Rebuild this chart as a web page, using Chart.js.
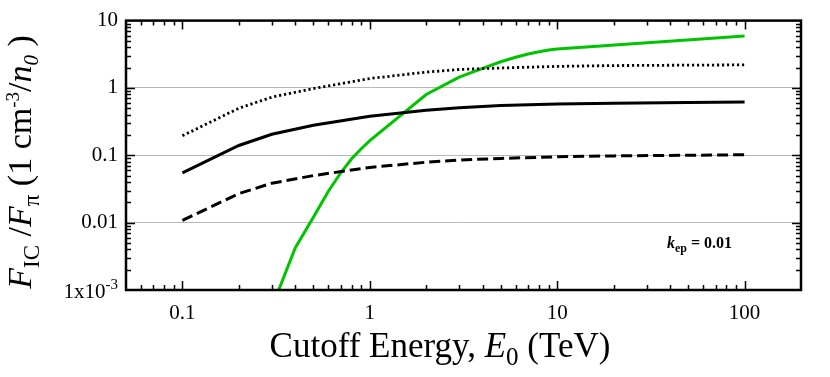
<!DOCTYPE html>
<html>
<head>
<meta charset="utf-8">
<script src="https://cdn.jsdelivr.net/npm/chart.js@4.4.1/dist/chart.umd.min.js"></script>
<style>
  html, body { margin: 0; padding: 0; background: #fff; }
  #wrap { width: 830px; height: 377px; }
</style>
</head>
<body>
<div id="wrap"><canvas id="myChart" width="830" height="377"></canvas></div>
<script>
// Energías de corte (TeV) para las curvas negras
const energy = [0.1, 0.2, 0.3, 0.5, 1, 2, 3, 5, 10, 20, 50, 100];
// Curvas negras: continua, punteada, discontinua
const solidRatio  = [0.055, 0.14, 0.205, 0.28, 0.38, 0.465, 0.51, 0.55, 0.58, 0.595, 0.61, 0.62];
const dottedRatio = [0.195, 0.5, 0.73, 0.98, 1.38, 1.72, 1.88, 1.98, 2.09, 2.15, 2.18, 2.2];
const dashedRatio = [0.0108, 0.027, 0.0385, 0.05, 0.066, 0.079, 0.085, 0.09, 0.095, 0.098, 0.1, 0.102];
// Curva verde
const greenEnergy = [0.3, 0.4, 0.5, 0.6, 0.7, 0.8, 0.9, 1, 2, 3, 4, 5, 6, 7, 8, 9, 10, 100];
const greenRatio  = [0.00055, 0.0042, 0.012, 0.029, 0.055, 0.089, 0.125, 0.165, 0.8, 1.45, 1.95, 2.45, 2.85, 3.2, 3.45, 3.65, 3.8, 5.9];
// Etiquetas de los ejes
const xTickLabels = [0.1, 1, 10, 100];
const yTickLabels = [10, 1, 0.1, 0.01];
const yGridValues = [1, 0.1, 0.01];

const SERIF = '"Liberation Serif", "Times New Roman", serif';

function pts(xs, ys) {
    return xs.map((x, i) => ({ x: x, y: ys[i] }));
}
function same(a, b) {
    return Math.abs(Math.log10(a) - Math.log10(b)) < 1e-6;
}

// Dibuja un texto compuesto (con sub/superíndices) a partir de (x, y)
function drawRich(ctx, parts, x, y) {
    let cx = x;
    parts.forEach(p => {
        ctx.font = p.font;
        ctx.fillText(p.t, cx, y + (p.dy || 0));
        cx += ctx.measureText(p.t).width;
    });
    return cx - x;
}
function richWidth(ctx, parts) {
    let w = 0;
    parts.forEach(p => { ctx.font = p.font; w += ctx.measureText(p.t).width; });
    return w;
}

const framePlugin = {
    id: 'framePlugin',
    afterDraw(chart) {
        const ctx = chart.ctx;
        const a = chart.chartArea;
        const xs = chart.scales.x, ys = chart.scales.y;
        ctx.save();
        ctx.strokeStyle = '#000';

        // marcas hacia dentro (mayores y menores)
        ctx.lineWidth = 1.5;
        ctx.beginPath();
        for (let e = -3; e <= 3; e++) {
            for (let m = 1; m <= 9; m++) {
                const v = m * Math.pow(10, e);
                const len = m === 1 ? 9 : 5;
                if (v > xs.min * 1.0001 && v < xs.max * 0.9999) {
                    const px = Math.round(xs.getPixelForValue(v)) + 0.5;
                    ctx.moveTo(px, a.bottom); ctx.lineTo(px, a.bottom - len);
                    ctx.moveTo(px, a.top); ctx.lineTo(px, a.top + len);
                }
                if (v > ys.min * 1.0001 && v < ys.max * 0.9999) {
                    const py = Math.round(ys.getPixelForValue(v)) + 0.5;
                    ctx.moveTo(a.left, py); ctx.lineTo(a.left + len, py);
                    ctx.moveTo(a.right, py); ctx.lineTo(a.right - len, py);
                }
            }
        }
        ctx.stroke();

        // marco
        ctx.lineWidth = 2.5;
        ctx.strokeRect(a.left, a.top, a.right - a.left, a.bottom - a.top);

        ctx.fillStyle = '#000';
        ctx.textBaseline = 'alphabetic';
        ctx.textAlign = 'left';

        // etiqueta 1x10^-3
        const lab = [
            { t: '1x10', font: '21px ' + SERIF },
            { t: '-3', font: '15px ' + SERIF, dy: -9 }
        ];
        const lw = richWidth(ctx, lab);
        drawRich(ctx, lab, a.left - 8 - lw, ys.getPixelForValue(0.001) + 8);

        // k_ep = 0.01
        drawRich(ctx, [
            { t: 'k', font: 'italic bold 16px ' + SERIF },
            { t: 'ep', font: 'bold 12px ' + SERIF, dy: 4 },
            { t: ' = 0.01', font: 'bold 16px ' + SERIF }
        ], 667, 248);

        // título del eje X
        const xt = [
            { t: 'Cutoff Energy, ', font: '35px ' + SERIF },
            { t: 'E', font: 'italic 35px ' + SERIF },
            { t: '0', font: '25px ' + SERIF, dy: 8 },
            { t: ' (TeV)', font: '35px ' + SERIF }
        ];
        const xw = richWidth(ctx, xt);
        drawRich(ctx, xt, 440 - xw / 2, 357);

        // título del eje Y (rotado)
        const yt = [
            { t: 'F', font: 'italic 34px ' + SERIF },
            { t: 'IC', font: '23px ' + SERIF, dy: 8 },
            { t: ' /', font: '34px ' + SERIF },
            { t: 'F', font: 'italic 34px ' + SERIF },
            { t: 'π', font: '23px ' + SERIF, dy: 8 },
            { t: ' (1 cm', font: '34px ' + SERIF },
            { t: '-3', font: '19px ' + SERIF, dy: -12 },
            { t: '/', font: '34px ' + SERIF },
            { t: 'n', font: 'italic 34px ' + SERIF },
            { t: '0', font: 'italic 21px ' + SERIF, dy: 7 },
            { t: ' )', font: '34px ' + SERIF }
        ];
        const yw = richWidth(ctx, yt);
        ctx.translate(31, 162);
        ctx.rotate(-Math.PI / 2);
        drawRich(ctx, yt, -yw / 2, 0);
        ctx.restore();
    }
};

const ctx = document.getElementById('myChart').getContext('2d');
const myChart = new Chart(ctx, {
    type: 'line',
    data: {
        datasets: [
            {
                label: 'dotted',
                data: pts(energy, dottedRatio),
                borderColor: '#000',
                borderWidth: 2.8,
                borderDash: [2.2, 2.8]
            },
            {
                label: 'solid',
                data: pts(energy, solidRatio),
                borderColor: '#000',
                borderWidth: 3
            },
            {
                label: 'dashed',
                data: pts(energy, dashedRatio),
                borderColor: '#000',
                borderWidth: 3,
                borderDash: [11, 5]
            },
            {
                label: 'green',
                data: pts(greenEnergy, greenRatio),
                borderColor: '#00c400',
                borderWidth: 3
            }
        ]
    },
    options: {
        responsive: false,
        animation: false,
        layout: { padding: { top: 19, right: 29, left: 0, bottom: 0 } },
        elements: { point: { radius: 0 }, line: { tension: 0, fill: false } },
        plugins: { legend: { display: false }, tooltip: { enabled: false } },
        scales: {
            x: {
                type: 'logarithmic',
                min: 0.05,
                max: 200,
                border: { display: false },
                grid: { display: false, drawTicks: false },
                afterFit(scale) { scale.height = 87; },
                ticks: {
                    autoSkip: false,
                    maxRotation: 0,
                    padding: 11,
                    color: '#000',
                    font: { family: SERIF, size: 21 },
                    callback(v) {
                        const hit = xTickLabels.find(t => same(t, v));
                        return hit !== undefined ? String(hit) : '';
                    }
                }
            },
            y: {
                type: 'logarithmic',
                min: 0.001,
                max: 10,
                border: { display: false },
                afterFit(scale) { scale.width = 126; },
                grid: {
                    drawTicks: false,
                    lineWidth: 1,
                    color(c) {
                        const v = c.tick && c.tick.value;
                        return (v && yGridValues.some(g => same(g, v))) ? '#b8b8b8' : 'rgba(0,0,0,0)';
                    }
                },
                ticks: {
                    autoSkip: false,
                    padding: 8,
                    color: '#000',
                    font: { family: SERIF, size: 21 },
                    callback(v) {
                        const hit = yTickLabels.find(t => same(t, v));
                        return hit !== undefined ? String(hit) : '';
                    }
                }
            }
        }
    },
    plugins: [framePlugin]
});
</script>
</body>
</html>
